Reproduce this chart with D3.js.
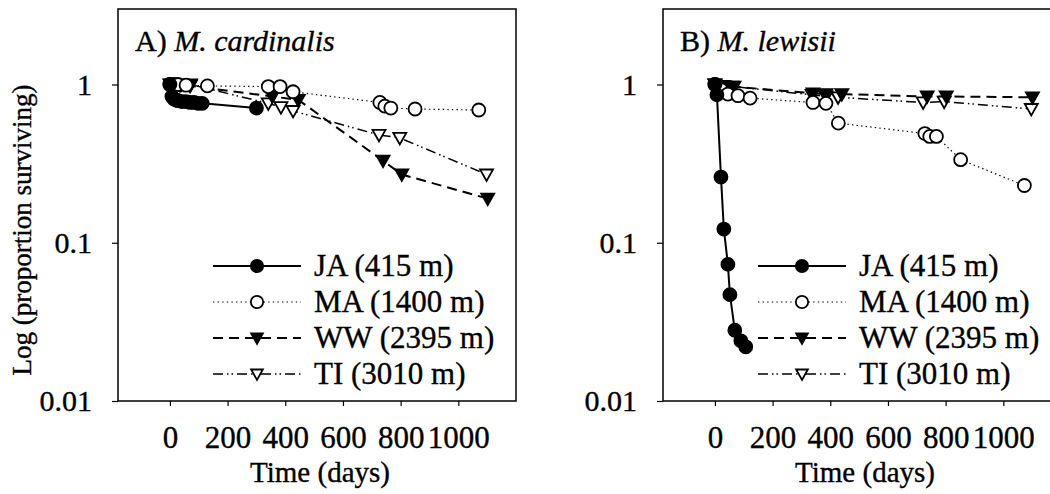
<!DOCTYPE html>
<html><head><meta charset="utf-8">
<script src="https://cdn.jsdelivr.net/npm/d3@7"></script>
<style>
html,body{margin:0;padding:0;background:#fff;}
svg text{font-family:"Liberation Serif","DejaVu Serif",serif;fill:#000;stroke:#000;stroke-width:0.35px;}
</style></head>
<body><svg id="chart" width="1050" height="494"></svg>
<script>
// ---------- data ----------
const seriesNames = ["JA (415 m)", "MA (1400 m)", "WW (2395 m)", "TI (3010 m)"];
const yTickValues = [1, 0.1, 0.01];
const yTickLabels = ["1", "0.1", "0.01"];
const xTickValues = [0, 200, 400, 600, 800, 1000];
const xTickLabels = ["0", "200", "400", "600", "800", "1000"];

// Panel A: M. cardinalis
const cardJA_t = [0, 7, 14, 21, 28, 42, 56, 70, 84, 98, 112, 300];
const cardJA_v = [1.0, 0.84, 0.81, 0.80, 0.79, 0.78, 0.78, 0.77, 0.77, 0.76, 0.76, 0.71];
const cardMA_t = [0, 14, 28, 56, 130, 341, 382, 427, 728, 745, 766, 850, 1071];
const cardMA_v = [1.0, 1.0, 1.0, 0.99, 0.98, 0.97, 0.97, 0.90, 0.77, 0.73, 0.71, 0.70, 0.69];
const cardWW_t = [0, 35, 70, 355, 445, 739, 804, 1102];
const cardWW_v = [1.0, 0.99, 0.98, 0.84, 0.80, 0.33, 0.27, 0.19];
const cardTI_t = [5, 40, 72, 341, 385, 427, 725, 797, 1098];
const cardTI_v = [1.0, 1.0, 1.0, 0.76, 0.72, 0.68, 0.48, 0.46, 0.27];

// Panel B: M. lewisii
const lewJA_t = [0, 7, 21, 31, 45, 52, 69, 90, 107];
const lewJA_v = [1.0, 0.86, 0.26, 0.122, 0.073, 0.047, 0.028, 0.024, 0.022];
const lewMA_t = [0, 21, 45, 80, 122, 340, 385, 428, 728, 745, 768, 852, 1073];
const lewMA_v = [1.0, 0.93, 0.87, 0.85, 0.82, 0.77, 0.76, 0.57, 0.49, 0.47, 0.47, 0.335, 0.23];
const lewWW_t = [0, 30, 60, 340, 385, 440, 736, 802, 1101];
const lewWW_v = [1.0, 0.98, 0.97, 0.88, 0.87, 0.87, 0.84, 0.84, 0.83];
const lewTI_t = [0, 35, 66, 337, 385, 427, 722, 795, 1097];
const lewTI_v = [1.0, 0.97, 0.97, 0.86, 0.84, 0.83, 0.77, 0.78, 0.70];

// ---------- styles ----------
const styles = [
  {dash: null, width: 2, marker: "circle", fill: "#000"},
  {dash: "1.4,3.2", width: 1.2, marker: "circle", fill: "#fff"},
  {dash: "10,6", width: 2, marker: "tri", fill: "#000"},
  {dash: "10,4,1.5,3,1.5,4", width: 1.5, marker: "tri", fill: "#fff"}
];

const panels = [
  {left: 118, title: "A) ", species: "M. cardinalis",
   series: [[cardJA_t, cardJA_v], [cardMA_t, cardMA_v], [cardWW_t, cardWW_v], [cardTI_t, cardTI_v]]},
  {left: 663, title: "B) ", species: "M. lewisii",
   series: [[lewJA_t, lewJA_v], [lewMA_t, lewMA_v], [lewWW_t, lewWW_v], [lewTI_t, lewTI_v]]}
];

const svg = d3.select("#chart");
const plotTop = 9, plotBottom = 401, pw = 398;
const FS = 30;

function marker(g, type, fill, x, y, k) {
  if (type === "circle") {
    g.append("circle").attr("cx", x).attr("cy", y).attr("r", 6.5 * k)
      .attr("fill", fill).attr("stroke", "#000").attr("stroke-width", 1.8);
  } else {
    const w = 6.5 * k, h1 = 5 * k, h2 = 6.5 * k;
    g.append("path").attr("d", `M${x - w},${y - h1}L${x + w},${y - h1}L${x},${y + h2}Z`)
      .attr("fill", fill).attr("stroke", "#000").attr("stroke-width", 1.8).attr("stroke-linejoin", "miter");
  }
}

panels.forEach(p => {
  const x = d3.scaleLinear().domain([-180, 1200]).range([p.left, p.left + pw]);
  const y = d3.scaleLog().domain([0.01, 3]).range([plotBottom, plotTop]);
  const g = svg.append("g");

  // frame
  g.append("rect").attr("x", p.left).attr("y", plotTop).attr("width", pw).attr("height", plotBottom - plotTop)
    .attr("fill", "none").attr("stroke", "#000").attr("stroke-width", 1.5);

  // y axis
  const ya = d3.axisLeft(y).tickValues(yTickValues).tickFormat((d, i) => yTickLabels[i]).tickSize(6).tickPadding(20);
  const yg = g.append("g").attr("transform", `translate(${p.left},0)`).call(ya);
  yg.select(".domain").remove();
  yg.selectAll("line").attr("stroke-width", 1.2);
  yg.selectAll("text").attr("font-size", FS).attr("font-family", "Liberation Serif").attr("dy", "0.33em");

  // x axis
  const xa = d3.axisBottom(x).tickValues(xTickValues).tickFormat((d, i) => xTickLabels[i]).tickSize(5).tickPadding(20);
  const xg = g.append("g").attr("transform", `translate(0,${plotBottom})`).call(xa);
  xg.select(".domain").remove();
  xg.selectAll("line").attr("stroke-width", 1.2);
  xg.selectAll("text").attr("font-size", 31).attr("font-family", "Liberation Serif").attr("dy", "0.71em");

  g.append("text").attr("x", p.left + 202).attr("y", 482).attr("text-anchor", "middle")
    .attr("font-size", 29).text("Time (days)");

  // title
  const t = g.append("text").attr("x", p.left + 17).attr("y", 51).attr("font-size", FS);
  t.append("tspan").text(p.title);
  t.append("tspan").attr("font-style", "italic").text(p.species);

  // series
  p.series.forEach((s, si) => {
    const st = styles[si];
    const pts = s[0].map((d, i) => [d, s[1][i]]);
    const line = d3.line().x(d => x(d[0])).y(d => y(d[1]));
    g.append("path").attr("d", line(pts)).attr("fill", "none").attr("stroke", "#000")
      .attr("stroke-width", st.width).attr("stroke-dasharray", st.dash);
  });
  [3, 2, 1, 0].forEach(si => {
    const st = styles[si], s = p.series[si];
    s[0].forEach((d, i) => marker(g, st.marker, st.fill, x(d), y(s[1][i]), 1));
  });

  // legend
  const lx0 = p.left + 95, lx1 = p.left + 183, tx = p.left + 196;
  const rows = [266, 302, 338, 374];
  seriesNames.forEach((name, si) => {
    const st = styles[si];
    g.append("line").attr("x1", lx0).attr("x2", lx1).attr("y1", rows[si]).attr("y2", rows[si])
      .attr("stroke", "#000").attr("stroke-width", st.width).attr("stroke-dasharray", st.dash);
    marker(g, st.marker, st.fill, (lx0 + lx1) / 2, rows[si], st.marker === "circle" ? 0.95 : 0.9);
    g.append("text").attr("x", tx).attr("y", rows[si] + 10).attr("font-size", 31).text(name);
  });
});

// y label
svg.append("text").attr("transform", "translate(31,230) rotate(-90)").attr("text-anchor", "middle")
  .attr("font-size", 27).text("Log (proportion surviving)");
</script></body></html>
